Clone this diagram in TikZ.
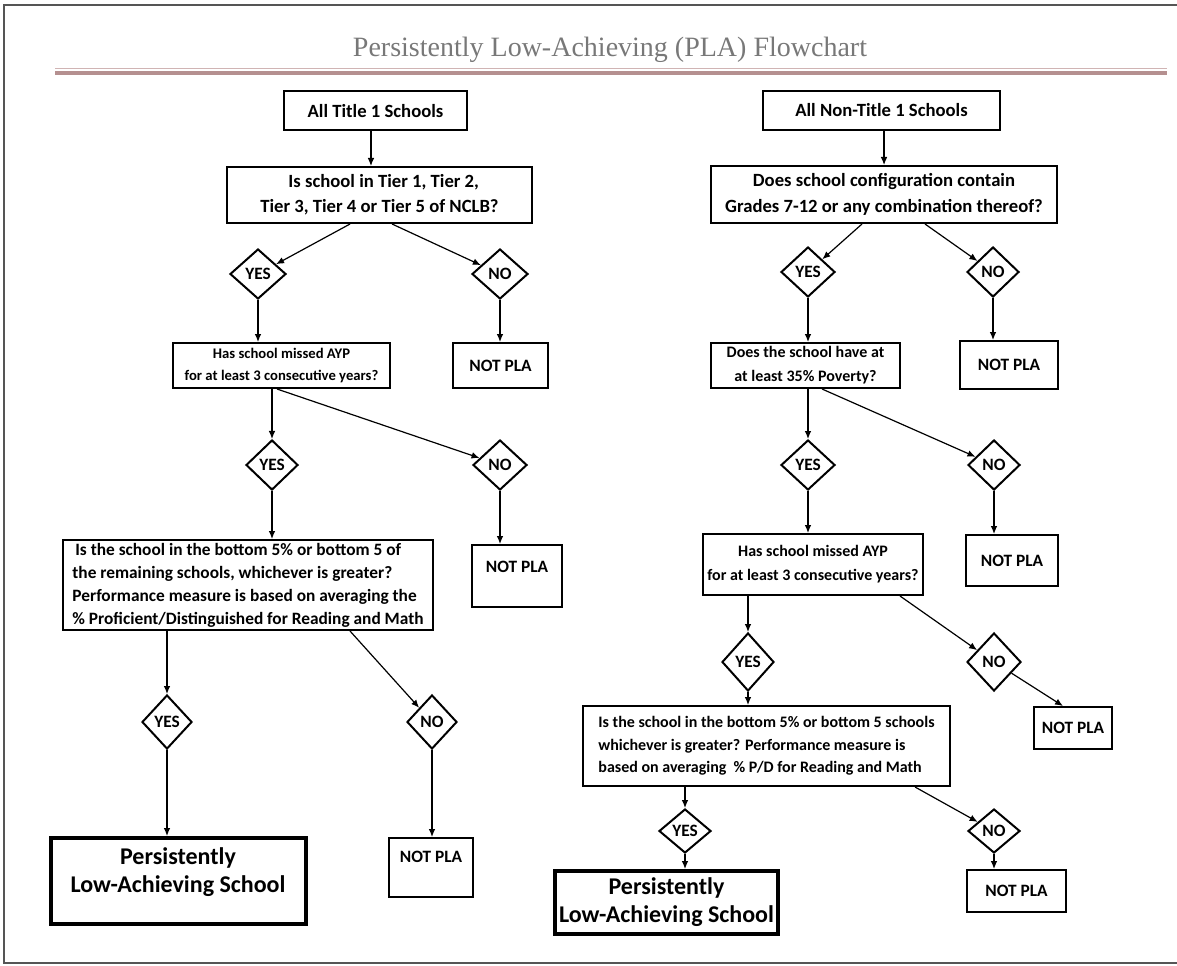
\documentclass[tikz,border=0pt]{standalone}
\usepackage{fontspec}
\setmainfont{Carlito}
\newfontfamily\titlefont{Liberation Serif}
\usetikzlibrary{shapes.geometric,arrows.meta,calc}
\definecolor{rulecol}{RGB}{181,144,144}
\definecolor{rulelight}{RGB}{208,180,180}
\definecolor{framecol}{RGB}{85,85,85}
\definecolor{titlecol}{RGB}{120,120,120}
\begin{document}
\begin{tikzpicture}[x=0.75pt,y=-0.75pt,
  wh/.style 2 args={minimum width=#1*0.75pt, minimum height=#2*0.75pt},
  box/.style={draw, line width=1.5pt, align=center, inner sep=0pt,
    font=\bfseries\fontsize{14}{19}\selectfont},
  bigtxt/.style={font=\bfseries\fontsize{14}{19}\selectfont},
  midtxt/.style={font=\bfseries\fontsize{11}{16}\selectfont},
  rtxt/.style={font=\bfseries\fontsize{12}{18}\selectfont},
  longtxt/.style={font=\bfseries\fontsize{13}{17.2}\selectfont},
  rlongtxt/.style={font=\bfseries\fontsize{12}{17}\selectfont},
  smalltxt/.style={font=\bfseries\fontsize{13}{15}\selectfont},
  dia/.style={draw, diamond, aspect=1, line width=1.5pt, inner sep=0pt,
    font=\bfseries\fontsize{13}{14}\selectfont},
  pla/.style={draw, line width=3pt, align=center, inner sep=0pt,
    font=\bfseries\fontsize{18}{21}\selectfont},
  arr/.style={-{Latex[length=6pt,width=5pt]}, line width=0.9pt}
]
\useasboundingbox (0,0) rectangle (1177,966);
% page frame
\draw[framecol, line width=1.5pt] (1177,5) -- (4,5) -- (4,963) -- (1177,963);
% title and rule
\node[font=\titlefont\fontsize{21}{24}\selectfont, text=titlecol] (title) at (610,50)
  {Persistently Low-Achieving (PLA) Flowchart};
\draw[rulelight, line width=0.75pt] (55,69) -- (1167,69);
\draw[rulecol, line width=2.6pt] (55,73) -- (1167,73);

% ---------- left column ----------
\node[box, wh={183}{39}] (a1) at (375.5,111) {All Title 1 Schools};
\node[box, bigtxt, wh={305}{56}] (a2) at (379.5,195)
  {\ \ Is school in Tier 1, Tier 2,\\Tier 3, Tier 4 or Tier 5 of NCLB?};
\node[dia, wh={56}{50}] (yes1) at (258,274) {YES};
\node[dia, wh={56}{50}] (no1) at (500,274) {NO};
\node[box, midtxt, wh={217}{45}] (a3) at (281.5,365.5)
  {Has school missed AYP\\for at least 3 consecutive years?};
\node[box, smalltxt, wh={95}{45}] (np1) at (500.5,365.5) {NOT PLA};
\node[dia, wh={52}{50}] (yes2) at (272,465) {YES};
\node[dia, wh={54}{50}] (no2) at (500,465) {NO};
\node[box, longtxt, wh={370}{90}, align=left] (a4) at (248,585)
  {\,Is the school in the bottom 5\% or bottom 5 of\\
   the remaining schools, whichever is greater?\\
   Performance measure is based on averaging the\\
   \% Proficient/Distinguished for Reading and Math};
\node[box, smalltxt, wh={90}{62}, text depth=14pt] (np2) at (517,576) {NOT PLA};
\node[dia, wh={50}{54}] (yes3) at (167,722) {YES};
\node[dia, wh={50}{54}] (no3) at (432,722) {NO};
\node[pla, wh={255}{86}, text depth=16pt] (pla1) at (178,881)
  {Persistently\\Low-Achieving School};
\node[box, smalltxt, wh={84}{59}, text depth=16pt] (np3) at (431,867.5) {NOT PLA};

\draw[arr] ([xshift=-3.4pt]a1.south) -- ([xshift=-3.4pt]a1.south |- a2.north);
\draw[arr] ([xshift=-22.1pt]a2.south) -- (yes1);
\draw[arr] ([xshift=9.4pt]a2.south) -- (no1);
\draw[arr] (yes1) -- (yes1 |- a3.north);
\draw[arr] (no1) -- (no1 |- np1.north);
\draw[arr] (a3.south -| yes2) -- (yes2);
\draw[arr] ([xshift=-3.4pt]a3.south) -- (no2);
\draw[arr] (yes2) -- (yes2 |- a4.north);
\draw[arr] (no2) -- (no2 |- np2.north);
\draw[arr] (a4.south -| yes3) -- (yes3);
\draw[arr] ([xshift=76.5pt]a4.south) -- (no3);
\draw[arr] (yes3) -- (yes3 |- pla1.north);
\draw[arr] (no3) -- (no3 |- np3.north);

% ---------- right column ----------
\node[box, wh={237}{39}] (b1) at (881.5,110.5) {All Non-Title 1 Schools};
\node[box, bigtxt, wh={346}{57}] (b2) at (884,194.5)
  {Does school configuration contain\\Grades 7-12 or any combination thereof?};
\node[dia, wh={54}{50}] (ryes1) at (808,272) {YES};
\node[dia, wh={52}{50}] (rno1) at (993,272) {NO};
\node[box, rtxt, wh={189}{45}] (b3) at (805.5,365.5)
  {Does the school have at\\at least 35\% Poverty?};
\node[box, smalltxt, wh={98}{48}] (rnp1) at (1009,365) {NOT PLA};
\node[dia, wh={54}{50}] (ryes2) at (808,465) {YES};
\node[dia, wh={52}{50}] (rno2) at (994,465) {NO};
\node[box, rtxt, wh={220}{61}] (b4) at (813,564.5)
  {Has school missed AYP\\for at least 3 consecutive years?};
\node[box, smalltxt, wh={92}{51}] (rnp2) at (1012,560.5) {NOT PLA};
\node[dia, wh={52}{58}] (ryes3) at (748,662) {YES};
\node[dia, wh={54}{58}] (rno3) at (994,662) {NO};
\node[box, smalltxt, wh={78}{42}] (rnp3) at (1073,728) {NOT PLA};
\node[box, rlongtxt, wh={367}{80}, align=left] (b5) at (766.5,746)
  {Is the school in the bottom 5\% or bottom 5 schools\\
   whichever is greater? Performance measure is\\
   based on averaging \ \% P/D for Reading and Math};
\node[dia, wh={52}{44}] (ryes4) at (685,831) {YES};
\node[dia, wh={52}{44}] (rno4) at (994,831) {NO};
\node[pla, wh={223}{63}] (pla2) at (666.5,902.5)
  {Persistently\\Low-Achieving School};
\node[box, smalltxt, wh={99}{42}] (rnp4) at (1016.5,891) {NOT PLA};

\draw[arr] ([xshift=1.9pt]b1.south) -- ([xshift=1.9pt]b1.south |- b2.north);
\draw[arr] ([xshift=-16.5pt]b2.south) -- (ryes1);
\draw[arr] ([xshift=30.75pt]b2.south) -- (rno1);
\draw[arr] (ryes1) -- (ryes1 |- b3.north);
\draw[arr] (rno1) -- (rno1 |- rnp1.north);
\draw[arr] (b3.south -| ryes2) -- (ryes2);
\draw[arr] ([xshift=12.4pt]b3.south) -- (rno2);
\draw[arr] (ryes2) -- (ryes2 |- b4.north);
\draw[arr] (rno2) -- (rno2 |- rnp2.north);
\draw[arr] (b4.south -| ryes3) -- (ryes3);
\draw[arr] ([xshift=65.25pt]b4.south) -- (rno3);
\draw[arr] (ryes3) -- (ryes3 |- b5.north);
\draw[arr] (rno3) -- ([xshift=-7.5pt]rnp3.north);
\draw[arr] (b5.south -| ryes4) -- (ryes4);
\draw[arr] ([xshift=111.4pt]b5.south) -- (rno4);
\draw[arr] (ryes4) -- (ryes4 |- pla2.north);
\draw[arr] (rno4) -- (rno4 |- rnp4.north);
\end{tikzpicture}
\end{document}
